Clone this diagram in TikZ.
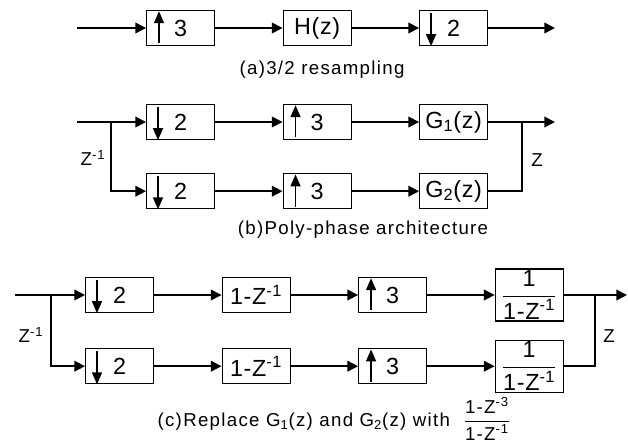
\documentclass[tikz,border=0pt]{standalone}
\usepackage{amsmath}
\usepackage{fontspec}
\setmainfont{Liberation Sans}
\newfontfamily\capfont[LetterSpace=7]{Liberation Sans}
\newfontfamily\blkfont[LetterSpace=3]{Liberation Sans}
\usetikzlibrary{positioning,arrows.meta}

\tikzset{
  blk/.style={draw,line width=0.9pt,minimum width=51pt,minimum height=26.25pt,inner sep=1pt,font=\blkfont\fontsize{17.5}{19}\selectfont},
  fracblk/.style={blk,minimum height=39pt},
  captxt/.style={font=\capfont\fontsize{14}{16}\selectfont,inner sep=1pt},
  sig/.style={line width=1.2pt},
  rate/.style={line width=1.3pt,-{Triangle[length=9pt,width=7.5pt]}}
}

\begin{document}
\begin{tikzpicture}[x=0.75pt,y=-0.75pt,>={Triangle[length=8pt,width=8pt]},node distance=24.75pt and 50.5pt]
\useasboundingbox (0,0) rectangle (628,446);

% (a) 3/2 resampling
\coordinate (ain) at (77,28);
\node[blk,anchor=west] (a1) at (146,28) {3};
\node[blk,right=of a1] (a2) {H(z)};
\node[blk,right=of a2] (a3) {2};
\coordinate (aout) at (555,28);
\draw[sig,->] (ain) -- (a1);
\draw[sig,->] (a1) -- (a2);
\draw[sig,->] (a2) -- (a3);
\draw[sig,->] (a3) -- (aout);
\draw[rate] ([xshift=9.75pt,yshift=2pt]a1.south west) -- ([xshift=9.75pt,yshift=-1pt]a1.north west);
\draw[rate] ([xshift=9pt,yshift=-2pt]a3.north west) -- ([xshift=9pt]a3.south west);
\node[captxt] (acap) at (322,70) {(a)3/2 resampling};

% (b) poly-phase
\coordinate (bin) at (77,122);
\coordinate (bsplit) at (111,122);
\node[blk,anchor=west] (b1) at (146,122) {2};
\node[blk,right=of b1] (b2) {3};
\node[blk,right=of b2] (b3) {G\textsubscript{1}(z)};
\node[blk,below=of b1] (b4) {2};
\node[blk,right=of b4] (b5) {3};
\node[blk,right=of b5] (b6) {G\textsubscript{2}(z)};
\coordinate (bjoin) at (522,122);
\coordinate (bout) at (555,122);
\draw[sig,->] (bin) -- (b1);
\draw[sig,->] (bsplit) |- (b4);
\draw[sig,->] (b1) -- (b2);
\draw[sig,->] (b2) -- (b3);
\draw[sig,->] (b4) -- (b5);
\draw[sig,->] (b5) -- (b6);
\draw[sig,->] (b3) -- (bout);
\draw[sig] (b6) -| (bjoin);
\draw[rate] ([xshift=9pt,yshift=-2pt]b1.north west) -- ([xshift=9pt]b1.south west);
\draw[rate] ([xshift=9pt,yshift=-2pt]b4.north west) -- ([xshift=9pt]b4.south west);
\draw[rate] ([xshift=9.75pt,yshift=2pt]b2.south west) -- ([xshift=9.75pt,yshift=-1pt]b2.north west);
\draw[rate] ([xshift=9.75pt,yshift=2pt]b5.south west) -- ([xshift=9.75pt,yshift=-1pt]b5.north west);
\node[captxt] (bzi) at (93,158) {Z\textsuperscript{-1}};
\node[captxt] (bz) at (537,160) {Z};
\node[captxt] (bcap) at (363,230) {(b)Poly-phase architecture};

% (c) G1, G2 replaced
\coordinate (cin) at (15,295);
\coordinate (csplit) at (51,295);
\node[blk,anchor=west] (c1) at (85,295) {2};
\node[blk,right=of c1] (c2) {1-Z\textsuperscript{-1}};
\node[blk,right=of c2] (c3) {3};
\node[fracblk,right=of c3] (c4) {$\dfrac{\text{1}}{\text{1-Z\textsuperscript{-1}}}$};
\node[blk,below=26.25pt of c1] (c5) {2};
\node[blk,right=of c5] (c6) {1-Z\textsuperscript{-1}};
\node[blk,right=of c6] (c7) {3};
\node[fracblk,right=of c7] (c8) {$\dfrac{\text{1}}{\text{1-Z\textsuperscript{-1}}}$};
\coordinate (cjoin) at (595,295);
\coordinate (cout) at (627,295);
\draw[sig,->] (cin) -- (c1);
\draw[sig,->] (csplit) |- (c5);
\draw[sig,->] (c1) -- (c2);
\draw[sig,->] (c2) -- (c3);
\draw[sig,->] (c3) -- (c4);
\draw[sig,->] (c5) -- (c6);
\draw[sig,->] (c6) -- (c7);
\draw[sig,->] (c7) -- (c8);
\draw[sig,->] (c4) -- (cout);
\draw[sig] (c8) -| (cjoin);
\draw[rate] ([xshift=9pt,yshift=-2pt]c1.north west) -- ([xshift=9pt]c1.south west);
\draw[rate] ([xshift=9pt,yshift=-2pt]c5.north west) -- ([xshift=9pt]c5.south west);
\draw[rate] ([xshift=9.75pt,yshift=2pt]c3.south west) -- ([xshift=9.75pt,yshift=-1pt]c3.north west);
\draw[rate] ([xshift=9.75pt,yshift=2pt]c7.south west) -- ([xshift=9.75pt,yshift=-1pt]c7.north west);
\node[captxt] (czi) at (31,335) {Z\textsuperscript{-1}};
\node[captxt] (cz) at (609,336) {Z};
\node[captxt] (ccap) at (334,419) {(c)Replace G\textsubscript{1}(z) and G\textsubscript{2}(z) with\hspace{10pt}$\dfrac{\text{1-Z\textsuperscript{-3}}}{\text{1-Z\textsuperscript{-1}}}$};
\end{tikzpicture}
\end{document}
